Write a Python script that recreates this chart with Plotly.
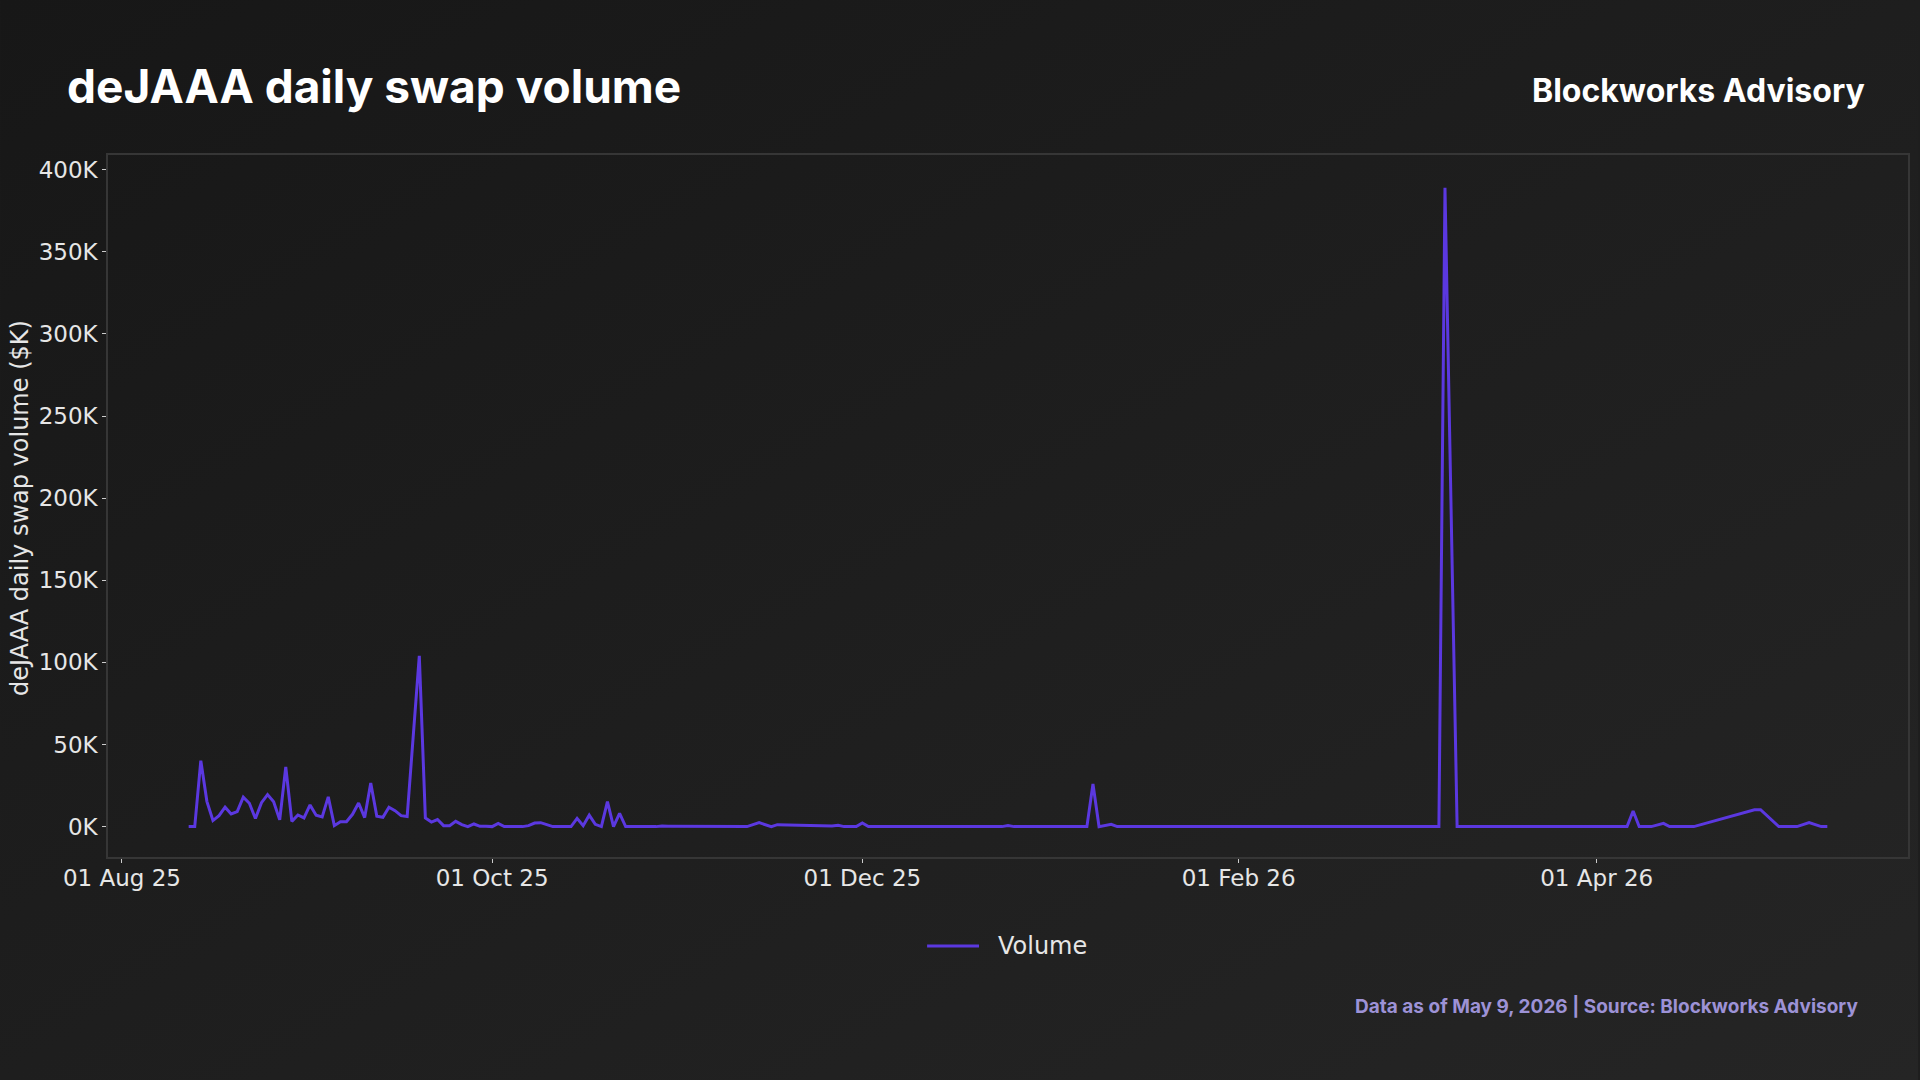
import base64
import plotly.graph_objects as go

# ---- data (values in $K) ----
dates = [
    "2025-08-12", "2025-08-13", "2025-08-14", "2025-08-15", "2025-08-16", "2025-08-17",
    "2025-08-18", "2025-08-19", "2025-08-20", "2025-08-21", "2025-08-22", "2025-08-23",
    "2025-08-24", "2025-08-25", "2025-08-26", "2025-08-27", "2025-08-28", "2025-08-29",
    "2025-08-30", "2025-08-31", "2025-09-01", "2025-09-02", "2025-09-03", "2025-09-04",
    "2025-09-05", "2025-09-06", "2025-09-07", "2025-09-08", "2025-09-09", "2025-09-10",
    "2025-09-11", "2025-09-12", "2025-09-13", "2025-09-14", "2025-09-15", "2025-09-16",
    "2025-09-17", "2025-09-19", "2025-09-20", "2025-09-21", "2025-09-22", "2025-09-23",
    "2025-09-24", "2025-09-25", "2025-09-26", "2025-09-27", "2025-09-28", "2025-09-29",
    "2025-09-30", "2025-10-01", "2025-10-02", "2025-10-03", "2025-10-06", "2025-10-07",
    "2025-10-08", "2025-10-09", "2025-10-10", "2025-10-11", "2025-10-14", "2025-10-15",
    "2025-10-16", "2025-10-17", "2025-10-18", "2025-10-19", "2025-10-20", "2025-10-21",
    "2025-10-22", "2025-10-23", "2025-10-28", "2025-10-29", "2025-10-30", "2025-11-06",
    "2025-11-07", "2025-11-12", "2025-11-14", "2025-11-16", "2025-11-17", "2025-11-26",
    "2025-11-27", "2025-11-28", "2025-11-30", "2025-12-01", "2025-12-02", "2025-12-24",
    "2025-12-25", "2025-12-26", "2026-01-07", "2026-01-08", "2026-01-09", "2026-01-11",
    "2026-01-12", "2026-01-20", "2026-01-21", "2026-01-22", "2026-03-06", "2026-03-07",
    "2026-03-09", "2026-04-06", "2026-04-07", "2026-04-08", "2026-04-10", "2026-04-12",
    "2026-04-13", "2026-04-17", "2026-04-27", "2026-04-28", "2026-05-01", "2026-05-04",
    "2026-05-06", "2026-05-08", "2026-05-09",
]
volume_k = [
    0, 0, 40.2, 15.4, 3.7, 6.7,
    11.8, 7.7, 9.1, 17.9, 14.2, 4.9,
    14.6, 19.5, 15.2, 4.1, 36.3, 3.2,
    7.1, 5.3, 13.2, 6.9, 5.9, 18.1,
    0.6, 3.0, 3.0, 7.5, 14.4, 5.5,
    26.6, 6.3, 5.7, 11.8, 9.7, 6.7,
    6.1, 104.0, 5.3, 2.8, 4.3, 0.6,
    0.6, 3.2, 1.2, 0, 1.6, 0.2,
    0.2, 0, 2.0, 0, 0, 0.6,
    2.2, 2.4, 1.2, 0, 0, 5.0,
    0.6, 7.0, 1.4, 0, 15.2, 0,
    8.0, 0, 0, 0.4, 0.3, 0.3,
    0.3, 0, 2.4, 0, 1.2, 0.4,
    0.8, 0, 0, 2.2, 0, 0,
    0.6, 0, 0, 26.0, 0, 1.4,
    0, 0, 0.3, 0, 0, 389.0,
    0, 0, 9.5, 0, 0, 2.0,
    0, 0, 10.3, 10.3, 0, 0,
    2.5, 0, 0,
]

y_tick_vals = [0, 50, 100, 150, 200, 250, 300, 350, 400]
y_tick_text = ["0K", "50K", "100K", "150K", "200K", "250K", "300K", "350K", "400K"]

series_name = "Volume"
title_text = "deJAAA daily swap volume"
brand_text = "Blockworks Advisory"
footer_text = "Data as of May 9, 2026 | Source: Blockworks Advisory"
y_title = "deJAAA daily swap volume ($K)"

# ---- geometry (px) ----
W, H = 1920, 1080
L, R, T, B = 108, 10, 155, 223
PW, PH = W - L - R, H - T - B


def px_x(x):
    return (x - L) / PW


def px_y(y):
    return (H - B - y) / PH


LINE_COLOR = "#5b38e0"
FONT = "DejaVu Sans"
TXT = "#e6e6e6"

svg = (
    '<svg xmlns="http://www.w3.org/2000/svg" width="1920" height="1080">'
    '<defs><linearGradient id="g" x1="0" y1="0" x2="1" y2="1">'
    '<stop offset="0" stop-color="#171717"/><stop offset="1" stop-color="#252525"/>'
    '</linearGradient></defs><rect width="1920" height="1080" fill="url(#g)"/></svg>'
)
bg_src = "data:image/svg+xml;base64," + base64.b64encode(svg.encode()).decode()

fig = go.Figure()
fig.add_trace(
    go.Scatter(
        x=dates,
        y=volume_k,
        mode="lines",
        name=series_name,
        line=dict(color=LINE_COLOR, width=3),
        showlegend=False,
    )
)

axis_common = dict(
    ticks="outside",
    ticklen=4,
    tickcolor="#cccccc",
    showgrid=False,
    zeroline=False,
    showline=True,
    linecolor="#363636",
    linewidth=1.5,
    mirror=True,
    tickfont=dict(size=23, color=TXT, family=FONT),
)

fig.update_layout(
    width=W,
    height=H,
    margin=dict(l=L, r=R, t=T, b=B, pad=0),
    paper_bgcolor="#1e1e1e",
    plot_bgcolor="rgba(0,0,0,0)",
    font=dict(family=FONT, color=TXT, size=23),
    showlegend=False,
    images=[
        dict(
            source=bg_src,
            xref="paper",
            yref="paper",
            x=px_x(0),
            y=px_y(0),
            sizex=W / PW,
            sizey=H / PH,
            xanchor="left",
            yanchor="top",
            sizing="stretch",
            layer="below",
        )
    ],
    xaxis=dict(
        type="date",
        range=["2025-07-29 17:00", "2026-05-22 07:00"],
        tick0="2025-08-01",
        dtick="M2",
        tickformat="%d %b %y",
        ticklabelstandoff=-4,
        **axis_common,
    ),
    yaxis=dict(
        range=[-18.5, 409],
        tickmode="array",
        tickvals=y_tick_vals,
        ticktext=y_tick_text,
        **axis_common,
    ),
    shapes=[
        dict(
            type="line",
            xref="paper", yref="paper",
            x0=px_x(928), x1=px_x(980),
            y0=px_y(946), y1=px_y(946),
            line=dict(color=LINE_COLOR, width=3),
        )
    ],
    annotations=[
        dict(
            text=series_name,
            xref="paper", yref="paper",
            x=px_x(997), y=px_y(946),
            xanchor="left", yanchor="middle",
            showarrow=False,
            font=dict(family=FONT, size=24, color=TXT),
        ),
        dict(
            text=f"<b>{title_text}</b>",
            xref="paper", yref="paper",
            x=px_x(65), y=px_y(86),
            xanchor="left", yanchor="middle",
            showarrow=False,
            font=dict(family="Inter", size=46, color="#ffffff"),
        ),
        dict(
            text=f"<b>{brand_text}</b>",
            xref="paper", yref="paper",
            x=px_x(1869), y=px_y(90),
            xanchor="right", yanchor="middle",
            showarrow=False,
            font=dict(family="Inter", size=32, color="#ffffff"),
        ),
        dict(
            text=f"<b>{footer_text}</b>",
            xref="paper", yref="paper",
            x=px_x(1862), y=px_y(1006),
            xanchor="right", yanchor="middle",
            showarrow=False,
            font=dict(family="Inter", size=19, color="#9d92d6"),
        ),
        dict(
            text=y_title,
            xref="paper", yref="paper",
            x=px_x(20), y=px_y(508),
            xanchor="center", yanchor="middle",
            textangle=-90,
            showarrow=False,
            font=dict(family=FONT, size=24, color=TXT),
        ),
    ],
)

fig.write_html("out.html")
